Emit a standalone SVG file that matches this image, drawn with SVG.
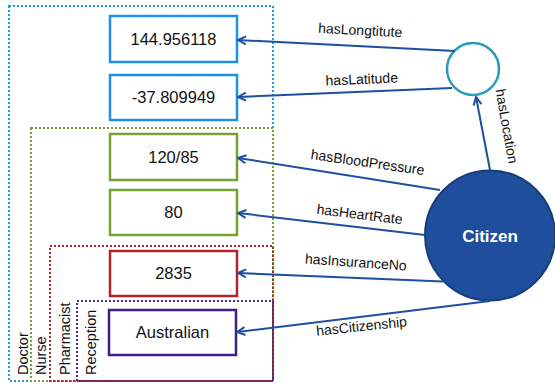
<svg xmlns="http://www.w3.org/2000/svg" width="555" height="383" viewBox="0 0 555 383">
<defs>
<marker id="arr" viewBox="0 0 10 10" refX="9" refY="5" markerWidth="10" markerHeight="10" markerUnits="userSpaceOnUse" orient="auto">
<path d="M1,1 L9,5 L1,9" fill="none" stroke="#1f4fa0" stroke-width="2"/>
</marker>
</defs>
<style>
text{font-family:"Liberation Sans",Arial,sans-serif;fill:#111}
.zone{fill:none;stroke-width:2;stroke-dasharray:2 2}
.box{fill:#fff;stroke-width:2.5}
.val{font-size:16.5px;text-anchor:middle}
.role{font-size:14.5px}
.lbl{font-size:14px;text-anchor:middle}
.edge{stroke:#1f4fa0;stroke-width:2;fill:none;marker-end:url(#arr)}
</style>
<rect width="555" height="383" fill="#fff"/>
<g id="zones">
<rect class="zone" x="9" y="6" width="264" height="375" stroke="#1e9be6"/>
<rect class="zone" x="31" y="128" width="242" height="253" stroke="#77a232"/>
<rect class="zone" x="50" y="246" width="223" height="135" stroke="#b0252a"/>
<rect class="zone" x="77" y="301" width="196" height="80" stroke="#4a2a90"/>
<text class="role" transform="translate(27.5,375) rotate(-90)">Doctor</text>
<text class="role" transform="translate(45.5,375) rotate(-90)">Nurse</text>
<text class="role" transform="translate(70,375) rotate(-90)">Pharmacist</text>
<text class="role" transform="translate(96,375) rotate(-90)">Reception</text>
</g>
<g id="n-longitude">
<rect class="box" x="110" y="16" width="127" height="46" stroke="#1e90e8"/>
<text class="val" x="173.5" y="45">144.956118</text>
</g>
<g id="n-latitude">
<rect class="box" x="110" y="75" width="127" height="45" stroke="#1e90e8"/>
<text class="val" x="173.5" y="103">-37.809949</text>
</g>
<g id="n-bp">
<rect class="box" x="110" y="134" width="127" height="46" stroke="#77a232"/>
<text class="val" x="173.5" y="163">120/85</text>
</g>
<g id="n-hr">
<rect class="box" x="110" y="190" width="127" height="45" stroke="#77a232"/>
<text class="val" x="173.5" y="218">80</text>
</g>
<g id="n-ins">
<rect class="box" x="110" y="251" width="127" height="45" stroke="#b0252a"/>
<text class="val" x="173.5" y="279">2835</text>
</g>
<g id="n-cit">
<rect class="box" x="109" y="310" width="127" height="45" stroke="#3f1e8a"/>
<text class="val" x="172.5" y="338">Australian</text>
</g>
<g id="n-location">
<circle cx="473" cy="69" r="26" fill="#fff" stroke="#2a9ab8" stroke-width="2.5"/>
</g>
<g id="n-citizen">
<circle cx="490" cy="235.5" r="65" fill="#1f4e9c" stroke="#173d7a" stroke-width="2"/>
<text x="490" y="242" style="font-size:17px;font-weight:bold;fill:#fff;text-anchor:middle">Citizen</text>
</g>
<g id="connectors">
<line class="edge" x1="455" y1="51" x2="238" y2="40"/>
<line class="edge" x1="452" y1="88" x2="238" y2="97"/>
<line class="edge" x1="490" y1="170" x2="476" y2="97"/>
<line class="edge" x1="440" y1="190" x2="238" y2="158"/>
<line class="edge" x1="425" y1="235" x2="238" y2="213"/>
<line class="edge" x1="443" y1="281.5" x2="238" y2="273"/>
<line class="edge" x1="490" y1="301" x2="237" y2="332"/>
<text class="lbl" transform="translate(360,35) rotate(3)">hasLongtitute</text>
<text class="lbl" transform="translate(362,84) rotate(-2.5)">hasLatitude</text>
<text class="lbl" transform="translate(367,167) rotate(8)">hasBloodPressure</text>
<text class="lbl" transform="translate(359,219) rotate(7)">hasHeartRate</text>
<text class="lbl" transform="translate(355.5,267) rotate(4)">hasInsuranceNo</text>
<text class="lbl" transform="translate(362,331) rotate(-6)">hasCitizenship</text>
<text class="lbl" transform="translate(502,127) rotate(80)">hasLocation</text>
</g>
</svg>
